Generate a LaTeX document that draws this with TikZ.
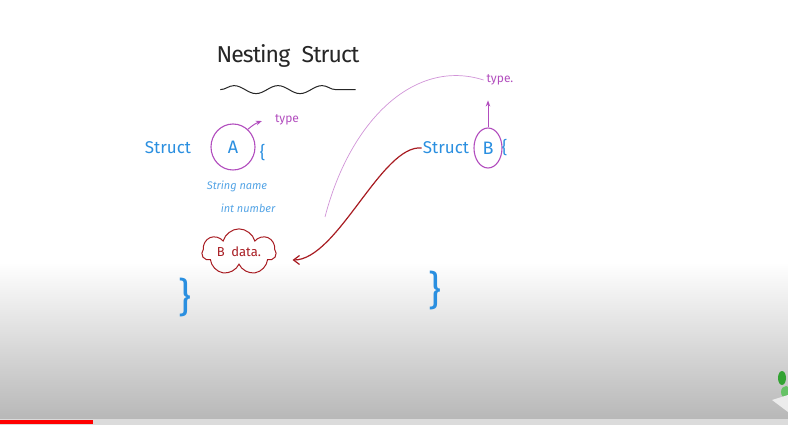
\documentclass[tikz,border=0pt]{standalone}
\usepackage{fontspec}
\setmainfont{Fira Sans}
\usepackage{tikz}
\usetikzlibrary{arrows.meta,positioning,shapes.symbols,shapes.geometric,decorations.pathmorphing,calc}
\definecolor{inkblue}{HTML}{2A8FE0}
\definecolor{inkpurple}{HTML}{B24DBE}
\definecolor{inkred}{HTML}{A81C22}
\tikzset{
  titl/.style={font=\fontsize{23}{26}\selectfont\addfontfeatures{LetterSpace=-4},text=black!85,inner sep=0pt},
  hand/.style={font=\fontsize{17}{18}\selectfont,text=inkblue,inner sep=1pt},
  fld/.style={font=\fontsize{11}{12}\selectfont\itshape,text=inkblue!80,inner sep=1pt},
  lbl/.style={font=\fontsize{12}{13}\selectfont,text=inkpurple,inner sep=1pt},
  brc/.style={font=\fontsize{40}{40}\selectfont,text=inkblue,inner sep=0pt},
  ring/.style={draw=inkpurple,line width=1.1pt,ellipse,text=inkblue,
    font=\fontsize{18}{18}\selectfont,inner sep=0pt},
  blob/.style={cloud,cloud puffs=7,aspect=2.2,draw=inkred,line width=1pt,
    text=inkred,font=\fontsize{13}{14}\selectfont,inner sep=0pt,
    minimum width=74pt,minimum height=36pt},
  parr/.style={-{Stealth[length=6pt,open]},draw=inkpurple,line width=1pt},
  rarr/.style={-{Straight Barb[length=6pt,width=9pt]},draw=inkred,line width=1.2pt},
  thin/.style={draw=inkpurple!60,line width=0.7pt},
}
\begin{document}
\begin{tikzpicture}[x=1pt,y=-1pt]
  \useasboundingbox (0,0) rectangle (788,425);
  % screen background
  \fill[white] (0,0) rectangle (788,262);
  \shade[top color=white,bottom color=gray!56] (0,262) rectangle (788,419);
  \fill[gray!28] (0,419) rectangle (788,425);
  \fill[red] (0,419.5) rectangle (93,423.5);
  \fill[green!55!black!80] (782,378) ellipse (4 and 7);
  \fill[green!60!black!60] (786,392) ellipse (5 and 6);
  \fill[gray!15] (772,400) -- (788,395) -- (788,412) -- cycle;

  % heading
  \node[titl] (ttl) at (288,56) {Nesting\enspace Struct};
  \draw[black!85,line width=1pt,decorate,
    decoration={snake,amplitude=4pt,segment length=44pt}]
    ([xshift=4pt,yshift=-22pt]ttl.south west) -- ([xshift=-4pt,yshift=-22pt]ttl.south east);

  % struct A
  \node[hand] (sa) at (168,148) {Struct};
  \node[ring,minimum width=44pt,minimum height=46pt] (ca) at (233,147) {A};
  \node[hand,right=3pt of ca,yshift=-6pt] (oba) {\{};
  \node[lbl] (typa) at (287,120) {type};
  \node[fld] (f1) at (237,186) {String name};
  \node[fld] (f2) at (248,208) {int number};
  \node[blob] (bd) at (239,252) {B\enspace data.};
  \node[brc] (cla) at (185,297) {\}};

  % struct B
  \node[hand] (sb) at (446,148) {Struct};
  \node[ring,minimum width=28pt,minimum height=40pt] (cb) at (488,148) {B};
  \node[hand,right=-2pt of cb] (obb) {\{};
  \node[lbl] (typb) at (500,80) {type.};
  \node[brc] (clb) at (435,290) {\}};
  \coordinate (tail) at (325,217);

  % arrows
  \draw[parr] (ca.50) to[bend left=10] ([xshift=-12pt,yshift=-1pt]typa.west);
  \draw[parr] (cb.north) -- ([yshift=-14pt]cb.north |- typb.south);
  \draw[thin] ([xshift=-2pt]typb.west) .. controls (415,58) and (350,120) .. (tail);
  \draw[rarr] (sb.west) .. controls +(-40,-4) and +(45,0) .. ([xshift=16pt,yshift=-8pt]bd.east);
\end{tikzpicture}
\end{document}
